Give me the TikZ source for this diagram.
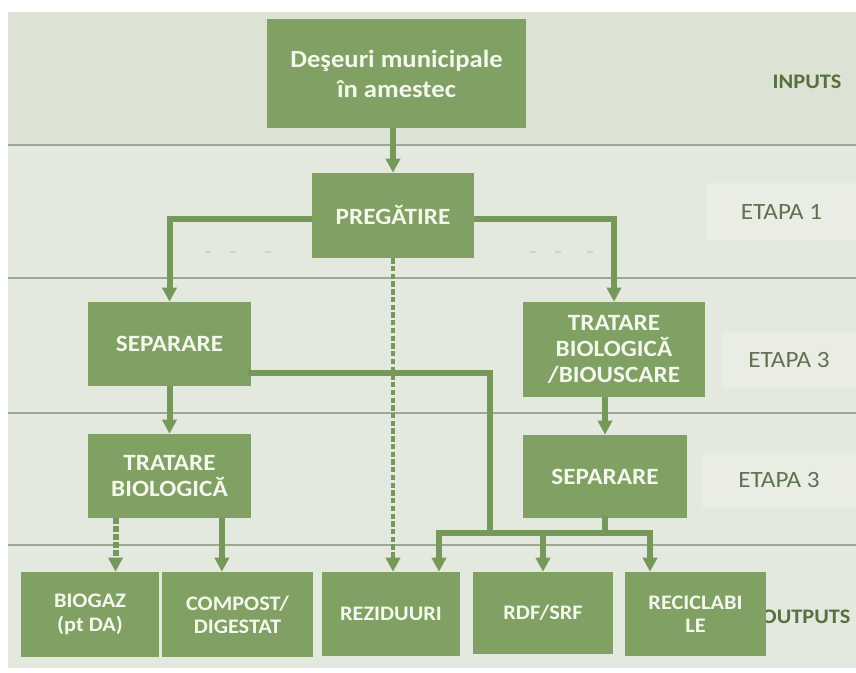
\documentclass[tikz,border=0pt]{standalone}
\usepackage{fontspec}
\setmainfont{Carlito}[FakeStretch=1.08]
\usetikzlibrary{arrows.meta,calc}

\definecolor{bandtop}{HTML}{DCE3D5}
\definecolor{bandlow}{HTML}{E4E9DF}
\definecolor{stagebg}{HTML}{E9EDE4}
\definecolor{sepgray}{HTML}{9CA991}
\definecolor{boxgreen}{HTML}{80A064}
\definecolor{wiregreen}{HTML}{76985A}
\definecolor{boxtext}{HTML}{F4F7EC}
\definecolor{tagdark}{HTML}{58703F}
\definecolor{stagetext}{HTML}{5F7252}

\begin{document}
\begin{tikzpicture}[
  x=0.75pt, y=-0.75pt,
  >={Triangle[length=10.5pt,width=10.5pt]},
  line join=miter,
  box/.style={
    fill=boxgreen,
    text=boxtext,
    align=center,
    inner sep=2pt,
    font=\fontsize{17.5}{19.5}\selectfont\bfseries
  },
  outbox/.style={
    box,
    font=\fontsize{15.5}{17.5}\selectfont\bfseries
  },
  stagebox/.style={
    fill=stagebg,
    text=stagetext,
    inner sep=0pt,
    font=\fontsize{17.5}{20}\selectfont
  },
  tag/.style={
    text=tagdark,
    inner sep=0pt,
    font=\fontsize{15.5}{18}\selectfont\bfseries
  },
  flow/.style={
    ->,
    line width=4.5pt,
    draw=wiregreen
  },
  wire/.style={
    line width=4.5pt,
    draw=wiregreen,
    line cap=rect
  },
  dflow/.style={
    flow,
    dash pattern=on 4pt off 2pt
  },
  thindflow/.style={
    flow,
    line width=3pt,
    dash pattern=on 4pt off 1.8pt
  },
  sepline/.style={
    draw=sepgray,
    line width=1.5pt
  },
  faintmark/.style={
    draw=black!18,
    line width=1pt
  }
]

\useasboundingbox (0,0) rectangle (856,673);
\fill[white] (0,0) rectangle (856,673);

% Bands
\fill[bandtop] (8,12) rectangle (856,145);
\fill[bandlow] (8,145) rectangle (856,668);
\foreach \sy in {145,278,413,545}
  \draw[sepline] (8,\sy) -- (856,\sy);

% Stage labels
\node[tag] (tin) at (807,82) {INPUTS};
\node[stagebox, minimum width=111.8pt, minimum height=42.8pt] (st1) at (781.5,211.5) {ETAPA 1};
\node[stagebox, minimum width=100.5pt, minimum height=42pt] (st3a) at (789,360) {ETAPA 3};
\node[stagebox, minimum width=115.5pt, minimum height=41.3pt] (st3b) at (779,480.5) {ETAPA 3};
\node[tag] (tout) at (806,617) {OUTPUTS};

% Main nodes
\node[box, minimum width=194.3pt, minimum height=81.8pt,
      font=\fontsize{18.5}{22.5}\selectfont\bfseries] (src) at (396.5,73.5) {Deşeuri municipale\\în amestec};
\node[box, minimum width=121.5pt, minimum height=63.8pt] (prep) at (393,215.5) {PREGĂTIRE};

\node[box, minimum width=122.3pt, minimum height=63pt] (sepL) at (169.5,344) {SEPARARE};
\node[box, minimum width=122.3pt, minimum height=63pt] (bioL) at (169.5,476) {TRATARE\\BIOLOGICĂ};

\node[box, minimum width=136.5pt, minimum height=71.3pt] (bioR) at (614,349.5) {TRATARE\\BIOLOGICĂ\\/BIOUSCARE};
\node[box, minimum width=123pt, minimum height=62.3pt] (sepR) at (605,476.5) {SEPARARE};

% Outputs
\node[outbox, minimum width=103.5pt, minimum height=63.8pt] (biogaz)  at (90,614.5)  {BIOGAZ\\(pt DA)};
\node[outbox, minimum width=113.3pt, minimum height=63.8pt] (compost) at (237.5,614.5) {COMPOST/\\DIGESTAT};
\node[outbox, minimum width=103.5pt, minimum height=63pt]   (rez)     at (391,614)   {REZIDUURI};
\node[outbox, minimum width=105pt,   minimum height=61.5pt] (rdf)     at (543,613)   {RDF/SRF};
\node[outbox, minimum width=105.8pt, minimum height=63pt]   (recic)   at (695.5,614) {RECICLABI\\LE};

% Junction points
\coordinate (sepLout) at (251,373);
\coordinate (jL)      at (490,533);
\coordinate (barL)    at (439,533);
\coordinate (barR)    at (650,533);

% Faint marks
\foreach \dx in {208,233,268,533,558,590}
  \draw[faintmark] (\dx-3,252) -- (\dx+3,252);

% Main flow
\draw[flow] (prep.north |- src.south) -- (prep.north);
\draw[flow] ([yshift=-3pt]prep.west) -| (sepL.north);
\draw[flow] ([yshift=-3pt]prep.east) -| (bioR.north);

\draw[flow] (sepL.south) -- (bioL.north);
\draw[flow] (bioR.south -| sepR.north) -- (sepR.north);

\draw[wire] (sepLout) -| (jL);
\draw[wire] (sepR.south) -- (sepR.south |- barL);
\draw[wire] (barL) -- (barR);

\draw[flow] (barL) -- (barL |- rez.north);
\draw[flow] (rdf.north |- barL) -- (rdf.north);
\draw[flow] (barR) -- (barR |- recic.north);

% Dashed branches
\draw[thindflow] (prep.south) -- (prep.south |- rez.north);
\draw[dflow] ($(bioL.south west)!0.17!(bioL.south east)$) coordinate (dq) -- (dq |- biogaz.north);
\draw[flow] ($(bioL.south west)!0.82!(bioL.south east)$) coordinate (cq) -- (cq |- compost.north);

\end{tikzpicture}
\end{document}
